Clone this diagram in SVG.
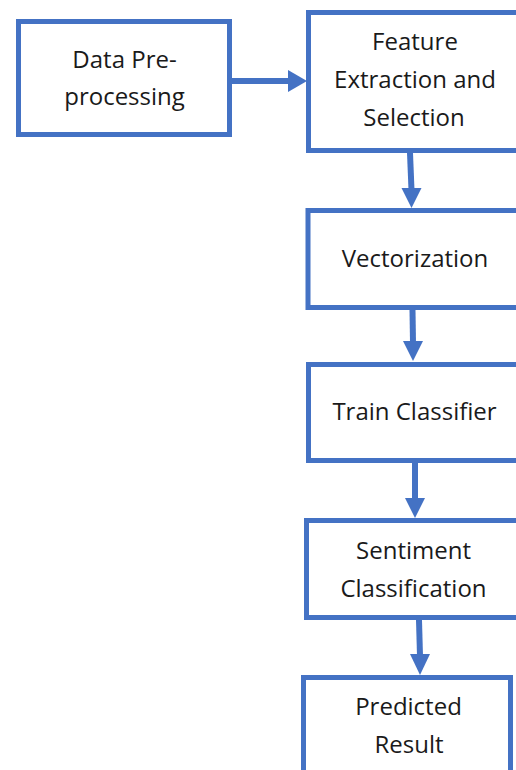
<svg xmlns="http://www.w3.org/2000/svg" width="516" height="770" viewBox="0 0 516 770">
  <style>
    .box { fill: #ffffff; stroke: #4472C4; stroke-width: 5; }
    .lbl { font-family: "Open Sans", "Liberation Sans", sans-serif; font-size: 24px; fill: #1a1a1a; text-anchor: middle; }
    .wire { stroke: #4472C4; stroke-width: 6; fill: none; }
    .head { fill: #4472C4; }
  </style>
  <rect width="516" height="770" fill="#ffffff"/>

  <g id="connectors">
    <!-- pre-processing -> feature extraction -->
    <line class="wire" x1="232" y1="81" x2="290" y2="81"/>
    <polygon class="head" points="288,70 307,81 288,92"/>
    <!-- feature extraction -> vectorization -->
    <line class="wire" x1="410" y1="153" x2="411.5" y2="190"/>
    <polygon class="head" points="401.5,188 421.5,188 411.5,208"/>
    <!-- vectorization -> train classifier -->
    <line class="wire" x1="412.5" y1="310" x2="413" y2="343"/>
    <polygon class="head" points="403,341 423,341 413,361"/>
    <!-- train classifier -> sentiment classification -->
    <line class="wire" x1="415" y1="463" x2="415" y2="500"/>
    <polygon class="head" points="405,498 425,498 415,518"/>
    <!-- sentiment classification -> predicted result -->
    <line class="wire" x1="419" y1="620" x2="420" y2="656"/>
    <polygon class="head" points="410,654 430,654 420,675"/>
  </g>

  <g id="data-preprocessing">
    <rect class="box" x="18.5" y="21.5" width="211" height="113"/>
    <text class="lbl" x="124.5" y="68">Data Pre-</text>
    <text class="lbl" x="124.5" y="105">processing</text>
  </g>

  <g id="feature-extraction">
    <rect class="box" x="308.5" y="12.5" width="220" height="138"/>
    <text class="lbl" x="415" y="50">Feature</text>
    <text class="lbl" x="415" y="88">Extraction and</text>
    <text class="lbl" x="414" y="126">Selection</text>
  </g>

  <g id="vectorization">
    <rect class="box" x="308" y="210.5" width="220" height="97"/>
    <text class="lbl" x="415" y="267">Vectorization</text>
  </g>

  <g id="train-classifier">
    <rect class="box" x="308.5" y="364.5" width="220" height="96"/>
    <text class="lbl" x="414.5" y="420">Train Classifier</text>
  </g>

  <g id="sentiment-classification">
    <rect class="box" x="306.5" y="520.5" width="220" height="97"/>
    <text class="lbl" x="413.5" y="559">Sentiment</text>
    <text class="lbl" x="413.5" y="597">Classification</text>
  </g>

  <g id="predicted-result">
    <rect class="box" x="303.5" y="677.5" width="207" height="110"/>
    <text class="lbl" x="408.5" y="715">Predicted</text>
    <text class="lbl" x="409" y="753">Result</text>
  </g>
</svg>
